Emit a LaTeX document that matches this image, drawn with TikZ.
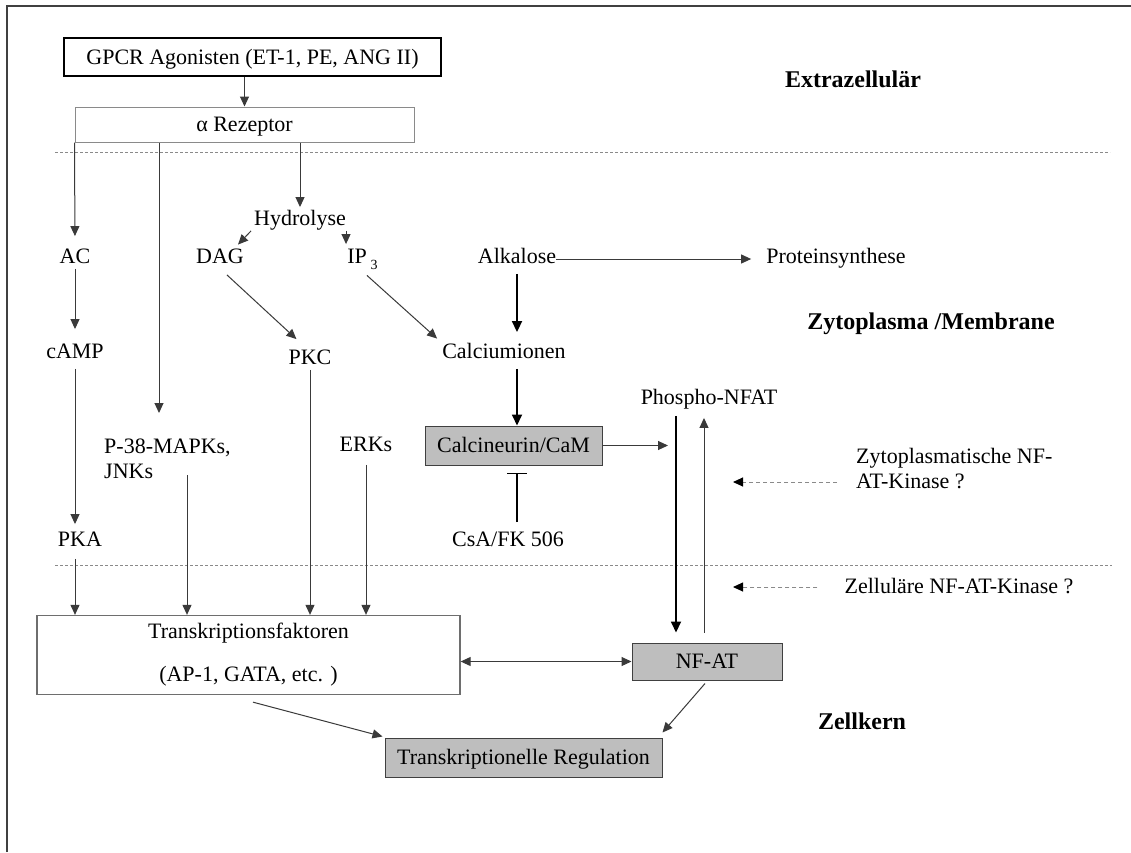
\documentclass[tikz,border=0pt]{standalone}
\usepackage{fontspec}
\setmainfont{Liberation Serif}
\usetikzlibrary{arrows.meta,calc}
\definecolor{boxgray}{HTML}{BEBEBE}
\definecolor{linegray}{HTML}{3A3A3A}
\definecolor{dashgray}{HTML}{8A8A8A}
\definecolor{framegray}{HTML}{404040}
\tikzset{
  txt/.style={inner sep=0pt, text height=14.5pt, text depth=5pt, font=\fontsize{22}{25}\selectfont},
  mtxt/.style={inner sep=0pt, align=left, font=\fontsize{22}{25}\selectfont},
  lbl/.style={inner sep=0pt, font=\bfseries\fontsize{24}{28}\selectfont},
  plainbox/.style={draw=linegray, line width=1pt, inner sep=0pt, font=\fontsize{22}{25}\selectfont},
  onebox/.style={plainbox, text height=14.5pt, text depth=0pt},
  graybox/.style={onebox, fill=boxgray, draw=framegray},
  arr/.style={draw=linegray, line width=1pt, -{Triangle[length=10pt,width=9pt]}},
  dblarr/.style={draw=linegray, line width=1pt, {Triangle[length=10pt,width=9pt]}-{Triangle[length=10pt,width=9pt]}},
  thickarr/.style={draw=black, line width=1.8pt, -{Triangle[length=11pt,width=10pt]}},
  sepline/.style={draw=dashgray, line width=1pt, dash pattern=on 3pt off 2pt},
  dasharr/.style={draw=dashgray, line width=1pt, dash pattern=on 4pt off 3pt, -{Triangle[length=10pt,width=9pt,color=black]}},
  inhib/.style={draw=black, line width=1.5pt, -{Bar[width=20pt,line width=1.5pt]}}
}
\begin{document}
\begin{tikzpicture}[x=1pt,y=-1pt]
\fill[white] (0,0) rectangle (1131,852);
\useasboundingbox (0,0) rectangle (1131,852);
% frame (top and left)
\draw[line width=2pt, framegray] (7,852) -- (7,6) -- (1131,6);

% separators
\draw[sepline] (55,152) -- (1110,152);
\draw[sepline] (55,565) -- (1112,565);

% region labels
\node[lbl] (extra) at (853,79) {Extrazellulär};
\node[lbl] (zyto) at (931,324) {Zytoplasma /Membrane};
\node[lbl] (kern) at (862,721) {Zellkern};

% top boxes
\node[onebox, draw=black, line width=1.8pt, minimum width=377pt, minimum height=38pt] (gpcr) at (252.5,57) {GPCR Agonisten (ET-1, PE, ANG II)};
\node[onebox, draw=dashgray, minimum width=339pt, minimum height=35pt] (alpha) at (244.5,124.5) {α Rezeptor};
\draw[arr] (gpcr.south -| alpha.north) -- (alpha.north);

% left column
\node[txt] (AC) at (75,259) {AC};
\node[txt] (cAMP) at (75,354) {cAMP};
\node[txt] (PKA) at (80,542) {PKA};
\draw[arr, shorten >=13pt] (alpha.south west) -- (AC.north);
\draw[arr, shorten >=15pt] (AC.south) -- (cAMP.north);
\draw[arr, shorten <=5pt, shorten >=8pt] (cAMP.south) -- (cAMP.south |- PKA.north);

% P-38 column
\node[mtxt, anchor=west] (p38) at (104,459) {P-38-MAPKs,\\JNKs};
\coordinate (p38in) at (159,413);
\draw[arr] (alpha.south -| p38in) -- (p38in);
\coordinate (jnk) at (187,475);

% hydrolysis branch
\node[txt] (hydro) at (300,221) {Hydrolyse};
\node[txt] (DAG) at (220,259) {DAG};
\node[txt] (IP3) at (362.5,259) {IP\,\raisebox{-6pt}{\fontsize{14}{14}\selectfont 3}};
\node[txt] (PKC) at (310,360) {PKC};
\node[txt] (ERKs) at (366,447) {ERKs};
\draw[arr, shorten >=4pt] (alpha.south -| hydro) -- (hydro);
\draw[arr] ($(hydro.south west)+(-3,0)$) -- ($(DAG.north east)+(-6,-4.5)$);
\draw[arr, shorten >=5pt] (hydro.south east) -- (hydro.south east |- IP3.north);
\draw[arr] ($(DAG.south)+(7,6)$) -- ($(PKC.north west)+(8,-11)$);

% calcium branch
\node[txt] (alk) at (517,259) {Alkalose};
\node[txt] (prot) at (836,259) {Proteinsynthese};
\node[txt] (calc) at (504,354) {Calciumionen};
\node[graybox, minimum width=177pt, minimum height=39pt] (can) at (513.5,445.5) {Calcineurin/CaM};
\node[txt] (csa) at (508,542) {CsA/FK 506};
\draw[arr, shorten >=15pt] (alk.east) -- (prot.west);
\draw[arr] ($(IP3.south)+(4.5,6.5)$) -- ($(calc.north west)+(-5,-5.5)$);
\draw[thickarr, shorten <=5pt, shorten >=12pt] (alk.south) -- (alk.south |- calc.north);
\draw[thickarr, shorten <=5pt] (alk |- calc.south) -- (alk |- can.north);
\draw[inhib, shorten <=10pt, shorten >=7pt] (alk |- csa.north) -- (alk |- can.south);

% NF-AT cycle
\node[txt] (pnfat) at (709,400) {Phospho-NFAT};
\node[graybox, minimum width=150pt, minimum height=37pt] (nfat) at (707,661.5) {NF-AT};
\coordinate (dnx) at ($(nfat.north)+(-31,0)$);
\coordinate (upx) at ($(nfat.north)+(-3,0)$);
\draw[thickarr, shorten <=6pt, shorten >=10pt] (dnx |- pnfat.south) -- (dnx);
\draw[arr, shorten <=10pt, shorten >=8pt] (upx) -- (upx |- pnfat.south);
\draw[arr, shorten >=8pt] (can.east) -- (can.east -| dnx);

% kinases
\node[mtxt, anchor=west] (zkin) at (856,469) {Zytoplasmatische NF-\\AT-Kinase ?};
\node[txt] (zell) at (959,589) {Zelluläre NF-AT-Kinase ?};
\coordinate (k1) at (733,482);
\coordinate (k2) at (733,587);
\draw[dasharr, shorten <=19pt] (zkin.west |- k1) -- (k1);
\draw[dasharr, shorten <=27pt] (zell.west |- k2) -- (k2);

% nucleus
\node[plainbox, draw=dashgray!80!black, line width=1.3pt, minimum width=423pt, minimum height=79pt, align=center, font=\fontsize{22}{43}\selectfont] (TF) at (248.5,655) {Transkriptionsfaktoren\\(AP-1, GATA, etc. )};
\node[graybox, minimum width=277pt, minimum height=39pt] (TR) at (523.5,757.5) {Transkriptionelle Regulation};

\draw[arr, shorten <=7pt] (AC |- PKA.south) -- (AC |- TF.north);
\draw[arr] (jnk) -- (jnk |- TF.north);
\draw[arr] (PKC.south) -- (PKC.south |- TF.north);
\draw[arr, shorten <=8pt] (ERKs.south) -- (ERKs.south |- TF.north);
\draw[dblarr] (TF.east |- nfat.west) -- (nfat.west);
\draw[arr] ($(TF.south)+(4.5,7)$) -- ($(TR.north west)+(-2,-1)$);
\draw[arr] ($(nfat.south)+(-2,3)$) -- ($(TR.north east)+(0,-5)$);
\end{tikzpicture}
\end{document}
